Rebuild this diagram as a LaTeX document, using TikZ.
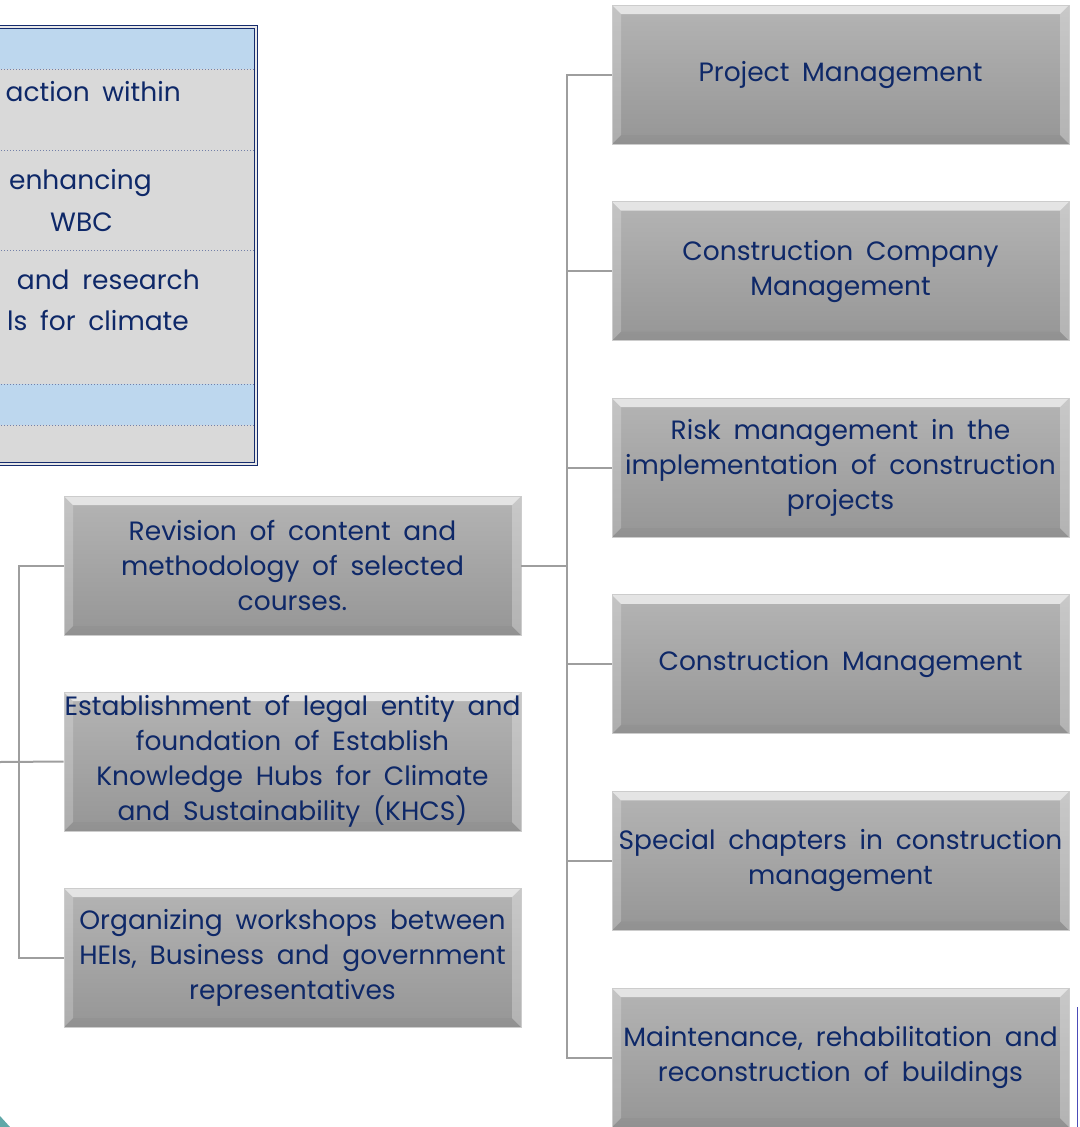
\documentclass[tikz,border=0pt]{standalone}
\usepackage{fontspec}
\setmainfont{Poppins}[WordSpace=1.8]
\usetikzlibrary{positioning}

\definecolor{navytext}{RGB}{14,40,104}
\definecolor{boxtop}{RGB}{180,180,180}
\definecolor{boxbot}{RGB}{150,150,150}
\definecolor{linkgray}{RGB}{158,158,158}
\definecolor{tblblue}{RGB}{189,215,238}
\definecolor{tblgray}{RGB}{217,217,217}
\definecolor{tblline}{RGB}{22,44,110}
\definecolor{tealcorner}{RGB}{96,168,168}

\newcommand{\boxfont}{\fontsize{26.5}{35}\selectfont}

\tikzset{
  bevelbox/.style={draw=gray!40, line width=0.8pt, top color=boxtop, bottom color=boxbot,
    minimum width=457pt, minimum height=139pt, inner sep=0pt, align=center,
    text=navytext, font=\boxfont,
    path picture={
      \fill[white,opacity=.65] (path picture bounding box.north west) -- (path picture bounding box.north east)
        -- ([xshift=-9pt,yshift=-9pt]path picture bounding box.north east) -- ([xshift=9pt,yshift=-9pt]path picture bounding box.north west) -- cycle;
      \fill[white,opacity=.22] (path picture bounding box.north west) -- ([xshift=9pt,yshift=-9pt]path picture bounding box.north west)
        -- ([xshift=9pt,yshift=9pt]path picture bounding box.south west) -- (path picture bounding box.south west) -- cycle;
      \fill[white,opacity=.28] (path picture bounding box.north east) -- ([xshift=-9pt,yshift=-9pt]path picture bounding box.north east)
        -- ([xshift=-9pt,yshift=9pt]path picture bounding box.south east) -- (path picture bounding box.south east) -- cycle;
      \fill[black,opacity=.03] (path picture bounding box.south west) -- ([xshift=9pt,yshift=9pt]path picture bounding box.south west)
        -- ([xshift=-9pt,yshift=9pt]path picture bounding box.south east) -- (path picture bounding box.south east) -- cycle;
    }},
  link/.style={draw=linkgray, line width=2pt},
  rowsep/.style={draw=tblline!60, line width=1pt, dotted},
  tbltext/.style={anchor=east, text=navytext, font=\boxfont, inner sep=0pt}
}

\begin{document}
\begin{tikzpicture}[x=1pt,y=-1pt]
\clip (0,0) rectangle (1079,1127);

% Table (cut at the left)
\fill[tblblue] (-20,27) rectangle (256,69);
\fill[tblgray] (-20,69) rectangle (256,384);
\fill[tblblue] (-20,384) rectangle (256,425);
\fill[tblgray] (-20,425) rectangle (256,464);
\foreach \y in {69,150,250,384,425}
  \draw[rowsep] (-20,\y) -- (254,\y);
\draw[draw=tblline, line width=1pt, double=tblgray!60, double distance=1.6pt] (-20,27) -- (256,27) -- (256,464) -- (-20,464);

\node[tbltext] (ta) at (181,92) {action within};
\node[tbltext] (tb) at (152,183) {enhancing};
\node[tbltext] (tc) at (113,222) {WBC};
\node[tbltext] (td) at (200,280) {and research};
\node[tbltext] (te) at (189,320) {ls for climate};

% Middle boxes
\node[bevelbox] (rev) at (292.5,565.5) {Revision of content and\\methodology of selected\\courses.};
\node[bevelbox] (est) at (292.5,761.5) {Establishment of legal entity and\\foundation of Establish\\Knowledge Hubs for Climate\\and Sustainability (KHCS)};
\node[bevelbox] (org) at (292.5,957.5) {Organizing workshops between\\HEIs, Business and government\\representatives};

% Right boxes
\node[bevelbox] (pm)   at (840.5,74.5)  {Project Management};
\node[bevelbox] (ccm)  at (840.5,271.1) {Construction Company\\Management};
\node[bevelbox] (risk) at (840.5,467.7) {Risk management in the\\implementation of construction\\projects};
\node[bevelbox] (cm)   at (840.5,664.3) {Construction Management};
\node[bevelbox] (scm)  at (840.5,860.9) {Special chapters in construction\\management};
\node[bevelbox] (mrb)  at (840.5,1057.5) {Maintenance, rehabilitation and\\reconstruction of buildings};

% Connectors
\coordinate (lbus) at (19,762);
\coordinate (lin) at (0,762);
\coordinate (rbus) at (567,565.5);
\draw[link] (rev.west) -- (rev.west -| lbus) -- (org.west -| lbus) -- (org.west);
\draw[link] (lin) -- (est.west);
\draw[link] (rev.east) -- (rbus);
\draw[link] (pm.west) -- (pm.west -| rbus) -- (mrb.west -| rbus) -- (mrb.west);
\foreach \n in {ccm,risk,cm,scm}
  \draw[link] (\n.west) -- (\n.west -| rbus);

% Cut-off bits at the edges
\fill[tealcorner] (0,1116) -- (10,1127) -- (0,1127) -- cycle;
\draw[draw=blue!60!black!70, line width=1pt] (1077.5,1007) -- (1077.5,1127);
\end{tikzpicture}
\end{document}
